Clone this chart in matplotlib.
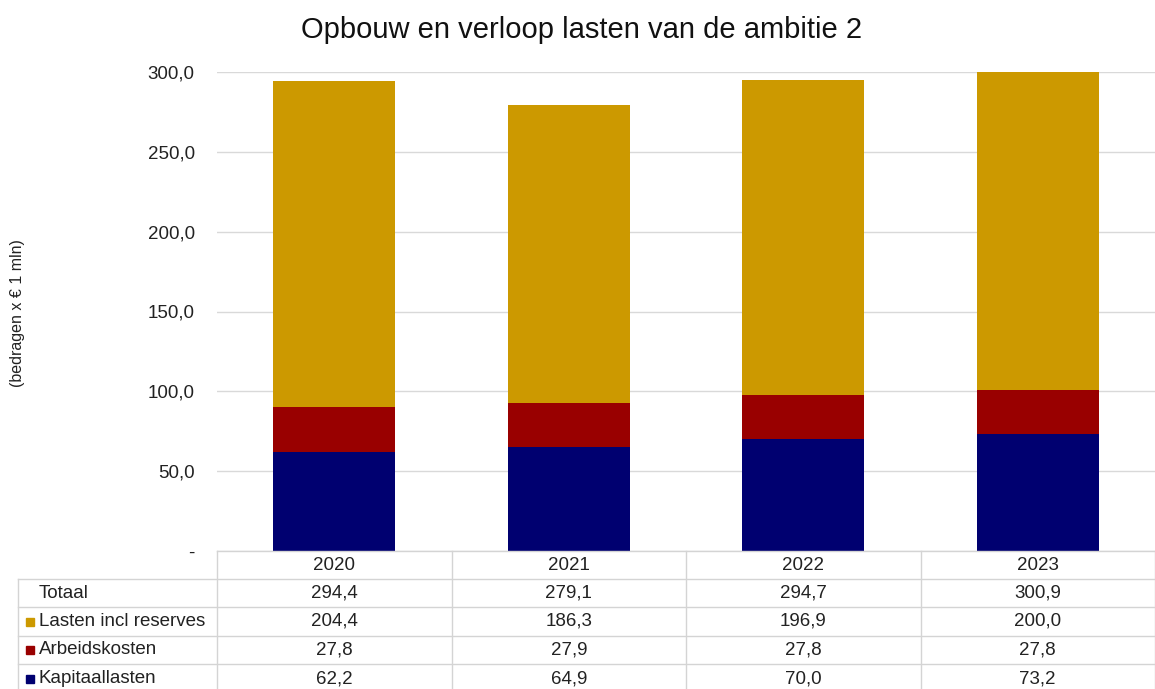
import numpy as np
import matplotlib
matplotlib.use('Agg')
import matplotlib.pyplot as plt

plt.rcParams['font.family'] = ['Liberation Sans', 'DejaVu Sans']

years = ['2020', '2021', '2022', '2023']
kapitaallasten = [62.2, 64.9, 70.0, 73.2]
arbeidskosten = [27.8, 27.9, 27.8, 27.8]
lasten_reserves = [204.4, 186.3, 196.9, 200.0]
totaal = [294.4, 279.1, 294.7, 300.9]

series_names = ['Lasten incl reserves', 'Arbeidskosten', 'Kapitaallasten']
series_colors = ['#CC9900', '#990000', '#000070']

W, H = 1155, 689
fig = plt.figure(figsize=(W / 100, H / 100), dpi=100)

# plot area in pixels
px0, px1, py0, py1 = 217, 1155, 72, 551
ax = fig.add_axes([px0 / W, 1 - py1 / H, (px1 - px0) / W, (py1 - py0) / H])

x = np.arange(len(years))
bw = 0.52
ax.bar(x, kapitaallasten, bw, color=series_colors[2], zorder=3)
ax.bar(x, arbeidskosten, bw, bottom=kapitaallasten, color=series_colors[1], zorder=3)
bottom2 = np.array(kapitaallasten) + np.array(arbeidskosten)
ax.bar(x, lasten_reserves, bw, bottom=bottom2, color=series_colors[0], zorder=3)

ax.set_xlim(-0.5, len(years) - 0.5)
ax.set_ylim(0, 300)
ax.set_yticks(np.arange(0, 301, 50))
ax.set_yticklabels(['-'] + [f'{v:.1f}'.replace('.', ',') for v in np.arange(50, 301, 50)],
                   fontsize=13.5, color='#222222')
ax.tick_params(axis='y', length=0, pad=16)
ax.set_xticks([])
ax.grid(axis='y', color='#d9d9d9', linewidth=1, zorder=0)
for s in ax.spines.values():
    s.set_visible(False)

fig.text(582 / W, 1 - 30 / H, 'Opbouw en verloop lasten van de ambitie 2',
         ha='center', va='center', fontsize=21, color='#111111')
fig.text(18 / W, 1 - 313 / H, '(bedragen x € 1 mln)', rotation=90,
         ha='center', va='center', fontsize=11.5, color='#222222')

# data table below the chart
tab = fig.add_axes([0, 0, 1, 1], zorder=5)
tab.set_xlim(0, W)
tab.set_ylim(H, 0)
tab.axis('off')
tab.patch.set_alpha(0)

grid_c = '#d4d4d4'
col_edges = [217 + i * (px1 - px0) / len(years) for i in range(len(years) + 1)]
row_edges = [551, 579, 607, 636, 664, 693]
left = 18

# header row lines
tab.plot([col_edges[0], col_edges[-1]], [row_edges[0], row_edges[0]], color=grid_c, lw=1)
for r in row_edges[1:]:
    tab.plot([left, col_edges[-1]], [r, r], color=grid_c, lw=1)
for i, c in enumerate(col_edges):
    tab.plot([c, c], [row_edges[0], H], color=grid_c, lw=1)
tab.plot([left, left], [row_edges[1], H], color=grid_c, lw=1)

centers = [(col_edges[i] + col_edges[i + 1]) / 2 for i in range(len(years))]
rows_y = [(row_edges[i] + row_edges[i + 1]) / 2 for i in range(len(row_edges) - 1)]

for cx, yr in zip(centers, years):
    tab.text(cx, rows_y[0], yr, ha='center', va='center', fontsize=13.5, color='#222222')

table_rows = [('Totaal', totaal, None),
              (series_names[0], lasten_reserves, series_colors[0]),
              (series_names[1], arbeidskosten, series_colors[1]),
              (series_names[2], kapitaallasten, series_colors[2])]

for (name, vals, col), ry in zip(table_rows, rows_y[1:]):
    if col is not None:
        tab.add_patch(plt.Rectangle((26, ry - 4), 8, 8, color=col))
    tab.text(39, ry, name, ha='left', va='center', fontsize=13.5, color='#222222')
    for cx, v in zip(centers, vals):
        tab.text(cx, ry, f'{v:.1f}'.replace('.', ','), ha='center', va='center',
                 fontsize=13.5, color='#222222')

fig.savefig('out.png', dpi=100)
